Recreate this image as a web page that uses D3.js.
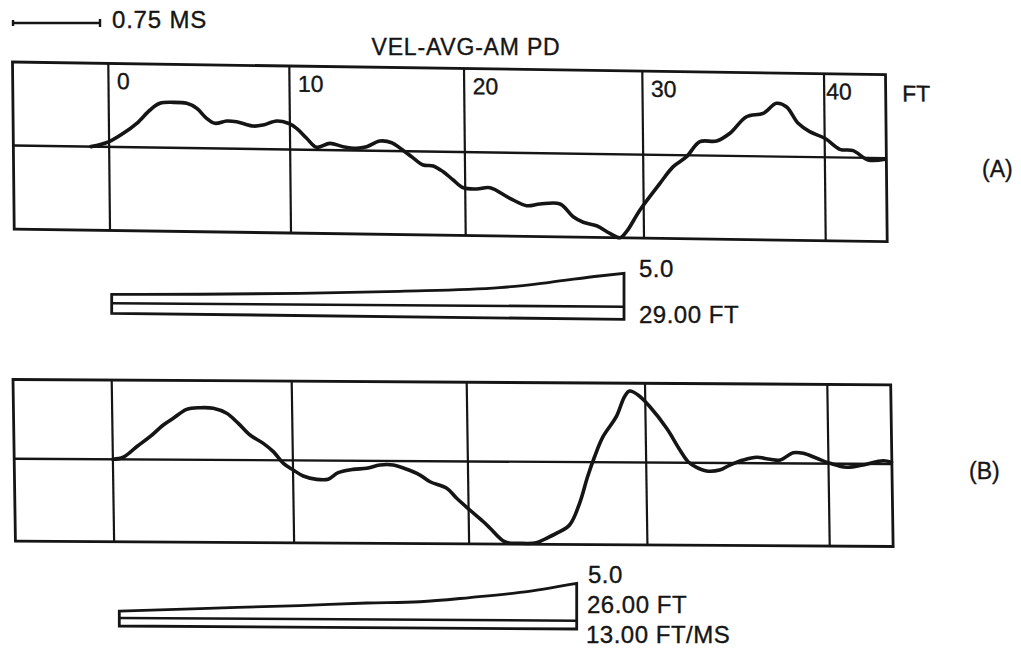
<!DOCTYPE html>
<html><head><meta charset="utf-8">
<script src="https://cdn.jsdelivr.net/npm/d3@7"></script>
<style>
body{margin:0;background:#fff}
svg{display:block}
text{font-family:"Liberation Sans",Arial,Helvetica,sans-serif;fill:#151515;stroke:#151515;stroke-width:0.35px}
</style>
</head><body>
<svg id="c" width="1021" height="653"></svg>
<script>
// ---------- data ----------
const title = "VEL-AVG-AM PD";
const scaleBarLabel = "0.75 MS";
const ftTicks = [0, 10, 20, 30, 40];
const ftTickLabels = ["0", "10", "20", "30", "40"];
const axisUnit = "FT";
const panelLabels = ["(A)", "(B)"];

// Panel A trace: distance (ft) vs normalised averaged velocity
const aFt = [-1.0, -0.03, 0.79, 1.54, 2.28, 2.83, 3.57, 4.31, 4.86, 5.40, 5.86, 6.51, 7.06, 7.97, 8.53, 9.27, 9.91, 10.38, 10.95, 11.52, 12.28, 13.04, 13.80, 14.38, 15.15, 15.82, 16.38, 16.95, 17.61, 18.18, 18.75, 19.32, 19.89, 20.64, 21.39, 22.50, 23.43, 24.18, 25.31, 26.04, 26.60, 27.35, 28.09, 28.65, 29.02, 29.79, 30.91, 31.65, 32.39, 33.13, 34.05, 34.79, 35.71, 36.63, 37.37, 37.91, 38.55, 39.18, 40.01, 40.83, 41.56, 42.38, 43.30];
const aVel = [0.0, 0.06, 0.165, 0.287, 0.449, 0.531, 0.545, 0.535, 0.478, 0.359, 0.301, 0.331, 0.323, 0.275, 0.289, 0.339, 0.314, 0.255, 0.138, 0.031, 0.081, 0.043, 0.026, 0.047, 0.117, 0.099, 0.022, -0.065, -0.162, -0.172, -0.240, -0.337, -0.428, -0.441, -0.423, -0.546, -0.632, -0.610, -0.606, -0.756, -0.820, -0.860, -0.948, -1.0, -0.926, -0.663, -0.340, -0.139, -0.017, 0.165, 0.176, 0.271, 0.472, 0.516, 0.638, 0.599, 0.402, 0.304, 0.228, 0.098, 0.084, -0.025, -0.014];

// Panel B trace
const bFt = [0.0, 0.58, 1.33, 2.08, 2.83, 3.39, 4.14, 4.88, 5.62, 6.36, 7.0, 7.64, 8.37, 8.92, 9.47, 10.01, 10.58, 11.34, 12.0, 12.58, 13.43, 14.21, 14.97, 15.73, 16.5, 17.25, 17.82, 18.77, 19.33, 20.07, 20.82, 21.19, 22.0, 22.84, 23.77, 24.34, 24.9, 25.65, 26.23, 26.7, 27.11, 27.6, 28.36, 28.84, 29.13, 29.6, 30.25, 31.15, 31.86, 32.3, 32.76, 33.3, 34.02, 34.59, 35.33, 36.07, 36.8, 37.35, 38.08, 38.63, 39.36, 40.08, 40.99, 41.9, 43.0, 43.46];
const bVel = [0.0, 0.026, 0.156, 0.280, 0.425, 0.508, 0.618, 0.639, 0.633, 0.573, 0.450, 0.308, 0.207, 0.106, -0.037, -0.118, -0.191, -0.231, -0.229, -0.148, -0.106, -0.092, -0.050, -0.049, -0.101, -0.171, -0.252, -0.331, -0.453, -0.596, -0.739, -0.818, -0.983, -1.0, -0.993, -0.937, -0.876, -0.773, -0.506, -0.179, 0.067, 0.313, 0.560, 0.806, 0.876, 0.828, 0.685, 0.421, 0.156, 0.013, -0.055, -0.099, -0.087, -0.025, 0.038, 0.072, 0.048, 0.040, 0.131, 0.124, 0.064, 0.004, -0.044, -0.015, 0.039, 0.021];

// Averaging wedges (weight profile; top reaches 5.0 at the far end)
const wedgeAFt = [0, 5.0, 10.65, 16.3, 21.96, 24.8, 27.6, 29];
const wedgeATop = [1.35, 1.44, 1.68, 2.08, 2.72, 3.58, 4.57, 5.0];
const wedgeALowFt = [0, 29];
const wedgeALow = [-1.5, -1.9];
const wedgeALabels = ["5.0", "29.00 FT"];

const wedgeBFt = [0, 4.59, 10.27, 14.08, 17.09, 19.93, 22.78, 26];
const wedgeBTop = [0.93, 1.33, 1.81, 2.2, 2.41, 3.01, 3.73, 5.0];
const wedgeBLowFt = [0, 26];
const wedgeBLow = [-1.07, -1.11];
const wedgeBLabels = ["5.0", "26.00 FT", "13.00 FT/MS"];

// ---------- drawing ----------
const INK = "#151515";
const svg = d3.select("#c");
svg.append("rect").attr("width", 1021).attr("height", 653).attr("fill", "#fff");

// scale bar
const sb = svg.append("g").attr("stroke", INK).attr("stroke-width", 2.4);
sb.append("line").attr("x1", 13).attr("x2", 100).attr("y1", 23).attr("y2", 23);
sb.append("line").attr("x1", 13).attr("x2", 13).attr("y1", 20).attr("y2", 26);
sb.append("line").attr("x1", 100).attr("x2", 100).attr("y1", 19).attr("y2", 27);
svg.append("text").attr("x", 112).attr("y", 28).attr("font-size", 24)
  .attr("letter-spacing", 0.8).text(scaleBarLabel);

svg.append("text").attr("x", 466).attr("y", 55).attr("text-anchor", "middle")
  .attr("font-size", 23).attr("letter-spacing", 0.8).text(title);

function skew(a, b, X0, Y0) {
  return `matrix(1,${b},${a},1,${-a * Y0},${-b * X0})`;
}

function drawPanel(cfg) {
  const g = svg.append("g").attr("transform", skew(cfg.a, cfg.b, 12, cfg.top));
  const x = d3.scaleLinear().domain(ftTicks).range(cfg.gridX);
  const y = d3.scaleLinear().domain([-1, 1]).range(cfg.yRange);

  // vertical grid lines
  g.selectAll("line.v").data(ftTicks).join("line")
    .attr("x1", d => x(d)).attr("x2", d => x(d))
    .attr("y1", cfg.top).attr("y2", cfg.bottom)
    .attr("stroke", INK).attr("stroke-width", 2.2);
  // zero line
  g.append("line").attr("x1", cfg.left).attr("x2", cfg.right)
    .attr("y1", y(0)).attr("y2", y(0))
    .attr("stroke", INK).attr("stroke-width", 2.4);
  // frame
  g.append("rect").attr("x", cfg.left).attr("y", cfg.top)
    .attr("width", cfg.right - cfg.left).attr("height", cfg.bottom - cfg.top)
    .attr("fill", "none").attr("stroke", INK).attr("stroke-width", 2.8);

  if (cfg.tickLabels) {
    g.selectAll("text.t").data(ftTicks).join("text")
      .attr("x", (d, i) => x(d) + (i === ftTicks.length - 1 ? 2 : 8.5))
      .attr("y", 87.5).attr("font-size", 23)
      .text((d, i) => ftTickLabels[i]);
    g.append("text").attr("x", 902).attr("y", 88.5).attr("font-size", 23).text(axisUnit);
  }

  const pts = cfg.ft.map((f, i) => [f, cfg.vel[i]]);
  g.append("path").datum(pts)
    .attr("d", d3.line().x(d => x(d[0])).y(d => y(d[1])).curve(d3.curveCatmullRom.alpha(0.5)))
    .attr("fill", "none").attr("stroke", INK).attr("stroke-width", 3.6)
    .attr("stroke-linejoin", "round").attr("stroke-linecap", "round");
}

drawPanel({
  a: 0.0102, b: 0.0145, top: 62, bottom: 229, left: 12.5, right: 885.5,
  gridX: [108.3, 289.3, 464, 642.3, 824], yRange: [229, 62],
  ft: aFt, vel: aVel, tickLabels: true
});
drawPanel({
  a: 0.015, b: 0.006, top: 379.5, bottom: 541.2, left: 13, right: 890.7,
  gridX: [111.7, 291.7, 466.7, 645, 827.3], yRange: [540.2, 377.2],
  ft: bFt, vel: bVel, tickLabels: false
});

svg.append("text").attr("x", 982).attr("y", 177).attr("font-size", 23).text(panelLabels[0]);
svg.append("text").attr("x", 969).attr("y", 479).attr("font-size", 23).text(panelLabels[1]);

function drawWedge(cfg) {
  const g = svg.append("g").attr("transform", `matrix(1,${cfg.b},0,1,0,${-cfg.b * cfg.x0})`);
  const x = d3.scaleLinear().domain([0, cfg.len]).range([cfg.x0, cfg.x1]);
  const y = d3.scaleLinear().domain([0, 5]).range([cfg.mid, cfg.mid - cfg.h5]);
  const top = cfg.ft.map((f, i) => [x(f), y(cfg.top[i])]);
  const lowR = y(cfg.low[1]), lowL = y(cfg.low[0]);
  const topPath = d3.line().curve(d3.curveMonotoneX)(top);
  const outline = topPath + `L${x(cfg.lowFt[1])},${lowR}L${x(cfg.lowFt[0])},${lowL}Z`;
  g.append("path").attr("d", outline).attr("fill", "none")
    .attr("stroke", INK).attr("stroke-width", 2.8).attr("stroke-linejoin", "miter");
  g.append("line").attr("x1", x(0)).attr("x2", x(cfg.len)).attr("y1", y(0)).attr("y2", y(0))
    .attr("stroke", INK).attr("stroke-width", 2.6);
}

drawWedge({ b: 0.0066, x0: 111.7, x1: 624, len: 29, mid: 303.3, h5: 33.4,
  ft: wedgeAFt, top: wedgeATop, lowFt: wedgeALowFt, low: wedgeALow });
drawWedge({ b: 0.0059, x0: 119.3, x1: 576.7, len: 26, mid: 618, h5: 37.4,
  ft: wedgeBFt, top: wedgeBTop, lowFt: wedgeBLowFt, low: wedgeBLow });

svg.append("text").attr("x", 639).attr("y", 277).attr("font-size", 24).attr("letter-spacing", 0.5).text(wedgeALabels[0]);
svg.append("text").attr("x", 639).attr("y", 323).attr("font-size", 24).attr("letter-spacing", 0.5).text(wedgeALabels[1]);
svg.append("text").attr("x", 588).attr("y", 583).attr("font-size", 24).attr("letter-spacing", 0.5).text(wedgeBLabels[0]);
svg.append("text").attr("x", 587).attr("y", 613).attr("font-size", 24).attr("letter-spacing", 0.5).text(wedgeBLabels[1]);
svg.append("text").attr("x", 586).attr("y", 643).attr("font-size", 24).attr("letter-spacing", 0.5).text(wedgeBLabels[2]);
</script>
</body></html>
